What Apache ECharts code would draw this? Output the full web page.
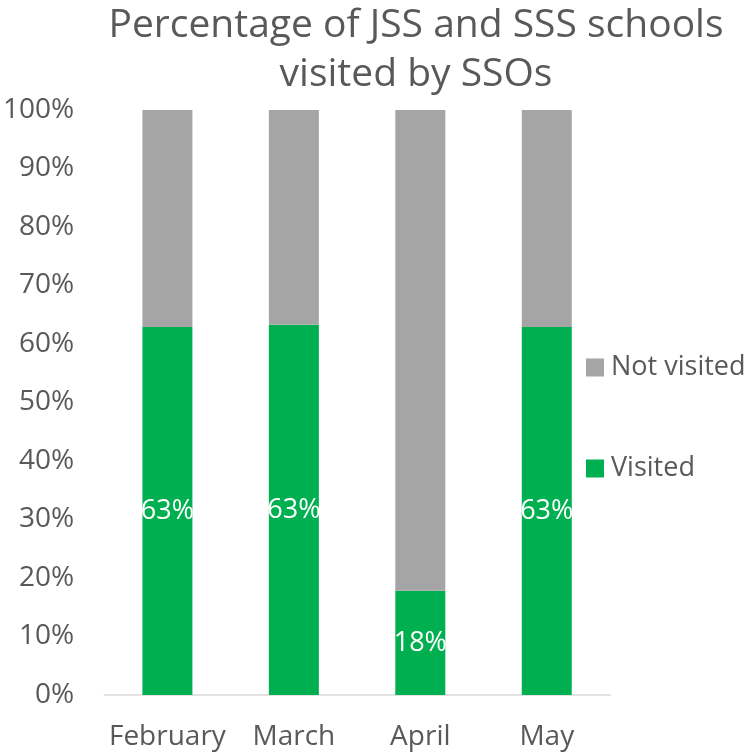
<!DOCTYPE html>
<html>
<head>
<meta charset="utf-8">
<script src="https://cdn.jsdelivr.net/npm/echarts@6/dist/echarts.min.js"></script>
<style>
  html, body { margin: 0; padding: 0; background: #fff; }
  #main { width: 748px; height: 755px; }
</style>
</head>
<body>
<div id="main"></div>
<script>
// data
var months = ['February', 'March', 'April', 'May'];
var visited = [62.9, 63.3, 17.8, 62.9];
var notVisited = [37.1, 36.7, 82.2, 37.1];
var yTicks = [0, 10, 20, 30, 40, 50, 60, 70, 80, 90, 100];

var font = '"Open Sans", sans-serif';
var myChart = echarts.init(document.getElementById('main'));

myChart.setOption({
    animation: false,
    title: {
        text: 'Percentage of JSS and SSS schools\nvisited by SSOs',
        left: 411,
        textAlign: 'center',
        top: -4,
        textStyle: { fontFamily: font, fontSize: 39, fontWeight: 'normal', color: '#595959', lineHeight: 49 }
    },
    legend: {
        orient: 'vertical',
        left: 581,
        top: 349,
        itemWidth: 18,
        itemHeight: 18,
        itemGap: 74,
        icon: 'rect',
        data: ['Not visited', 'Visited'],
        textStyle: { fontFamily: font, fontSize: 27, color: '#595959', padding: [0, 0, 0, 2] }
    },
    grid: { left: 104, right: 138, top: 110, bottom: 60 },
    xAxis: {
        type: 'category',
        data: months,
        axisLine: { lineStyle: { color: '#D9D9D9', width: 1.5 } },
        axisTick: { show: false },
        axisLabel: { interval: 0, fontFamily: font, fontSize: 28, color: '#595959', margin: 28 }
    },
    yAxis: {
        type: 'value',
        min: yTicks[0],
        max: yTicks[yTicks.length - 1],
        interval: 10,
        splitLine: { show: false },
        axisLine: { show: false },
        axisTick: { show: false },
        axisLabel: { fontFamily: font, fontSize: 28, color: '#595959', margin: 30, formatter: '{value}%' }
    },
    series: [
        {
            name: 'Visited',
            type: 'bar',
            stack: 'total',
            barWidth: 50,
            data: visited,
            itemStyle: { color: '#00B050' },
            label: {
                show: true,
                position: 'inside',
                color: '#fff',
                fontFamily: font,
                fontSize: 27,
                formatter: function (p) { return Math.round(p.value) + '%'; }
            }
        },
        {
            name: 'Not visited',
            type: 'bar',
            stack: 'total',
            barWidth: 50,
            data: notVisited,
            itemStyle: { color: '#A5A5A5' }
        }
    ]
});
</script>
</body>
</html>
